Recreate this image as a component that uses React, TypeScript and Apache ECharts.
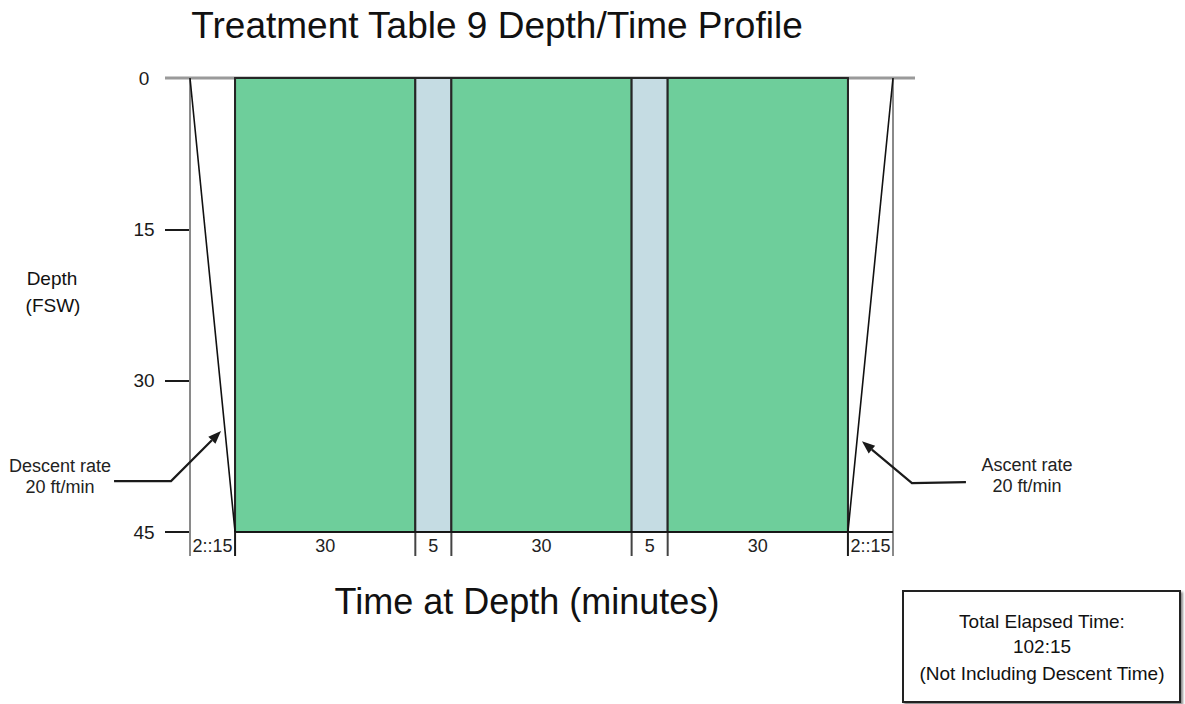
import React, { useEffect, useRef } from "react";
import * as echarts from "echarts";

// ---- data ----
const titleText = "Treatment Table 9 Depth/Time Profile";
const xAxisTitle = "Time at Depth (minutes)";
const yAxisTitle = ["Depth", "(FSW)"];
const segmentLabels = ["2::15", "30", "5", "30", "5", "30", "2::15"];
const segmentMinutes = [2.25, 30, 5, 30, 5, 30, 2.25];
const segmentKinds = ["descent", "oxygen", "air", "oxygen", "air", "oxygen", "ascent"];
// schematic (not to scale) span of each segment along the time axis, as drawn in the source
const segmentSpan = [2.5, 10, 2, 10, 2, 10, 2.5];
const treatmentDepth = 45; // fsw
const depthTicks = [0, 15, 30, 45];
const profileDepths = [0, 45, 45, 45, 45, 45, 45, 0]; // depth at each segment boundary
const noteLines = [
  ["Descent rate", "20 ft/min"],
  ["Ascent rate", "20 ft/min"],
];
const noteDepths = [35, 36];
const summaryLines = ["Total Elapsed Time:", "102:15", "(Not Including Descent Time)"];

const FONT = "Liberation Sans, Arial, Helvetica, sans-serif";
const kindColor: Record<string, string> = { oxygen: "#6ECE9B", air: "#C5DCE3" };

const boundaries: number[] = [0];
segmentSpan.forEach((s, i) => boundaries.push(boundaries[i] + s));
const totalSpan = boundaries[boundaries.length - 1];

const txt = (text: string, x: number, y: number, size: number, extra: any = {}) => ({
  type: "text",
  style: {
    text,
    x,
    y,
    fontSize: size,
    fontFamily: FONT,
    fill: "#111",
    align: "center",
    verticalAlign: "middle",
    textAlign: "center",
    textVerticalAlign: "middle",
    ...extra,
  },
});

export default function App() {
  const ref = useRef<HTMLDivElement>(null);
  useEffect(() => {
    if (!ref.current) return;
    const chart = echarts.init(ref.current, undefined, { renderer: "svg" });

    const phaseData = segmentKinds
      .map((k, i) => [boundaries[i], boundaries[i + 1], treatmentDepth, i])
      .filter((d) => segmentKinds[d[3]] === "oxygen" || segmentKinds[d[3]] === "air");

    const option: any = {
      animation: false,
      backgroundColor: "#fff",
      grid: { left: 190, right: 1185 - 893, top: 78, bottom: 704 - 532 },
      xAxis: {
        type: "value",
        min: 0,
        max: totalSpan,
        axisLine: { show: false },
        axisTick: { show: false },
        axisLabel: { show: false },
        splitLine: { show: false },
      },
      yAxis: {
        type: "value",
        inverse: true,
        min: depthTicks[0],
        max: depthTicks[depthTicks.length - 1],
        interval: 15,
        axisLine: { show: false },
        axisTick: { show: true, length: 25, lineStyle: { color: "#1a1a1a", width: 2 } },
        axisLabel: {
          margin: 46,
          fontSize: 19,
          color: "#1a1a1a",
          fontFamily: FONT,
          align: "center",
          padding: [0, 0, 10, 0],
        },
        splitLine: { show: false },
      },
      graphic: [
        txt(titleText, 497, 25, 37),
        txt(xAxisTitle, 527, 601, 36),
        txt(yAxisTitle[0], 52, 278, 19),
        txt(yAxisTitle[1], 53, 305, 19),
        {
          type: "rect",
          shape: { x: 903, y: 591, width: 277, height: 111 },
          style: {
            fill: "#fff",
            stroke: "#222",
            lineWidth: 2,
            shadowColor: "rgba(0,0,0,0.45)",
            shadowOffsetX: 2,
            shadowOffsetY: 2,
            shadowBlur: 2,
          },
        },
        txt(summaryLines[0], 1042, 621, 19),
        txt(summaryLines[1], 1042, 646, 19),
        txt(summaryLines[2], 1042, 673, 19),
      ],
      series: [
        {
          // surface line
          type: "custom",
          name: "surface",
          clip: false,
          z: 1,
          data: [[0, totalSpan, 0]],
          renderItem: (params: any, api: any) => {
            const a = api.coord([api.value(0), api.value(2)]);
            const b = api.coord([api.value(1), api.value(2)]);
            return {
              type: "line",
              shape: { x1: a[0] - 25, y1: a[1], x2: b[0] + 22, y2: b[1] },
              style: { stroke: "#9a9a9a", lineWidth: 3 },
            };
          },
        },
        {
          // segment boundaries
          type: "custom",
          name: "boundaries",
          clip: false,
          z: 2,
          data: boundaries.map((b, i) => [b, treatmentDepth, i]),
          renderItem: (params: any, api: any) => {
            const i = api.value(2);
            const top = api.coord([api.value(0), 0]);
            const bot = api.coord([api.value(0), api.value(1)]);
            const outer = i === 0 || i === boundaries.length - 1;
            const edge = i === 1 || i === boundaries.length - 2;
            return {
              type: "line",
              shape: { x1: top[0], y1: top[1], x2: bot[0], y2: bot[1] + 24 },
              style: {
                stroke: outer ? "#8a8a8a" : edge ? "#1a1a1a" : "#444",
                lineWidth: 2,
              },
            };
          },
        },
        {
          // bottom (treatment depth) line, from the end of descent to the end of ascent
          type: "custom",
          name: "floor",
          clip: false,
          z: 2,
          data: [[boundaries[1], totalSpan, treatmentDepth]],
          renderItem: (params: any, api: any) => {
            const a = api.coord([api.value(0), api.value(2)]);
            const b = api.coord([api.value(1), api.value(2)]);
            return {
              type: "line",
              shape: { x1: a[0], y1: a[1], x2: b[0], y2: b[1] },
              style: { stroke: "#1a1a1a", lineWidth: 2 },
            };
          },
        },
        {
          // oxygen / air periods
          type: "custom",
          name: "phases",
          clip: false,
          z: 3,
          data: phaseData,
          renderItem: (params: any, api: any) => {
            const p0 = api.coord([api.value(0), 0]);
            const p1 = api.coord([api.value(1), api.value(2)]);
            const kind = segmentKinds[api.value(3)];
            return {
              type: "rect",
              shape: { x: p0[0], y: p0[1], width: p1[0] - p0[0], height: p1[1] - p0[1] },
              style: { fill: kindColor[kind], stroke: "#262626", lineWidth: 2 },
            };
          },
        },
        {
          type: "line",
          name: "profile",
          z: 4,
          symbol: "none",
          data: boundaries.map((b, i) => [b, profileDepths[i]]),
          lineStyle: { color: "#111", width: 1.6 },
        },
        {
          // segment duration labels
          type: "custom",
          name: "labels",
          clip: false,
          z: 5,
          data: segmentLabels.map((l, i) => [boundaries[i], boundaries[i + 1], treatmentDepth, i]),
          renderItem: (params: any, api: any) => {
            const a = api.coord([api.value(0), api.value(2)]);
            const b = api.coord([api.value(1), api.value(2)]);
            return txt(segmentLabels[api.value(3)], (a[0] + b[0]) / 2, a[1] + 14, 18, {
              fill: "#222",
            });
          },
        },
        {
          // rate annotations with arrows
          type: "custom",
          name: "notes",
          clip: false,
          z: 6,
          data: noteDepths.map((d, i) => [d, i]),
          renderItem: (params: any, api: any) => {
            const depth = api.value(0);
            const i = api.value(1);
            const f = depth / treatmentDepth;
            let tip: number[], elbow: number[], tail: number[], tx: number, ty1: number, ty2: number;
            if (i === 0) {
              const x = boundaries[0] + (boundaries[1] - boundaries[0]) * f;
              const p = api.coord([x, depth]);
              tip = [p[0] - 4, p[1]];
              elbow = [tip[0] - 50, tip[1] + 50];
              tail = [tip[0] - 107, tip[1] + 50];
              tx = tail[0] - 54;
              ty1 = tip[1] + 35;
              ty2 = tip[1] + 56;
            } else {
              const n = boundaries.length;
              const x = boundaries[n - 2] + (boundaries[n - 1] - boundaries[n - 2]) * (1 - f);
              const p = api.coord([x, depth]);
              tip = [p[0] + 5, p[1]];
              elbow = [tip[0] + 50, tip[1] + 42];
              tail = [tip[0] + 104, tip[1] + 41];
              tx = tip[0] + 165;
              ty1 = tip[1] + 24;
              ty2 = tip[1] + 45;
            }
            const dx = tip[0] - elbow[0];
            const dy = tip[1] - elbow[1];
            const len = Math.sqrt(dx * dx + dy * dy);
            const ux = dx / len;
            const uy = dy / len;
            const bx = tip[0] - ux * 13;
            const by = tip[1] - uy * 13;
            const nx = -uy * 5;
            const ny = ux * 5;
            return {
              type: "group",
              children: [
                {
                  type: "polyline",
                  shape: { points: [tail, elbow, [bx, by]] },
                  style: { stroke: "#1a1a1a", lineWidth: 2.2, fill: "none" },
                },
                {
                  type: "polygon",
                  shape: { points: [tip, [bx + nx, by + ny], [bx - nx, by - ny]] },
                  style: { fill: "#1a1a1a" },
                },
                txt(noteLines[i][0], tx, ty1, 18, { fill: "#222" }),
                txt(noteLines[i][1], tx, ty2, 18, { fill: "#222" }),
              ],
            };
          },
        },
      ],
    };
    chart.setOption(option);
    return () => chart.dispose();
  }, []);
  return (
    <div
      ref={ref}
      style={{ position: "absolute", left: 0, top: 0, width: 1185, height: 704, background: "#fff" }}
    />
  );
}
